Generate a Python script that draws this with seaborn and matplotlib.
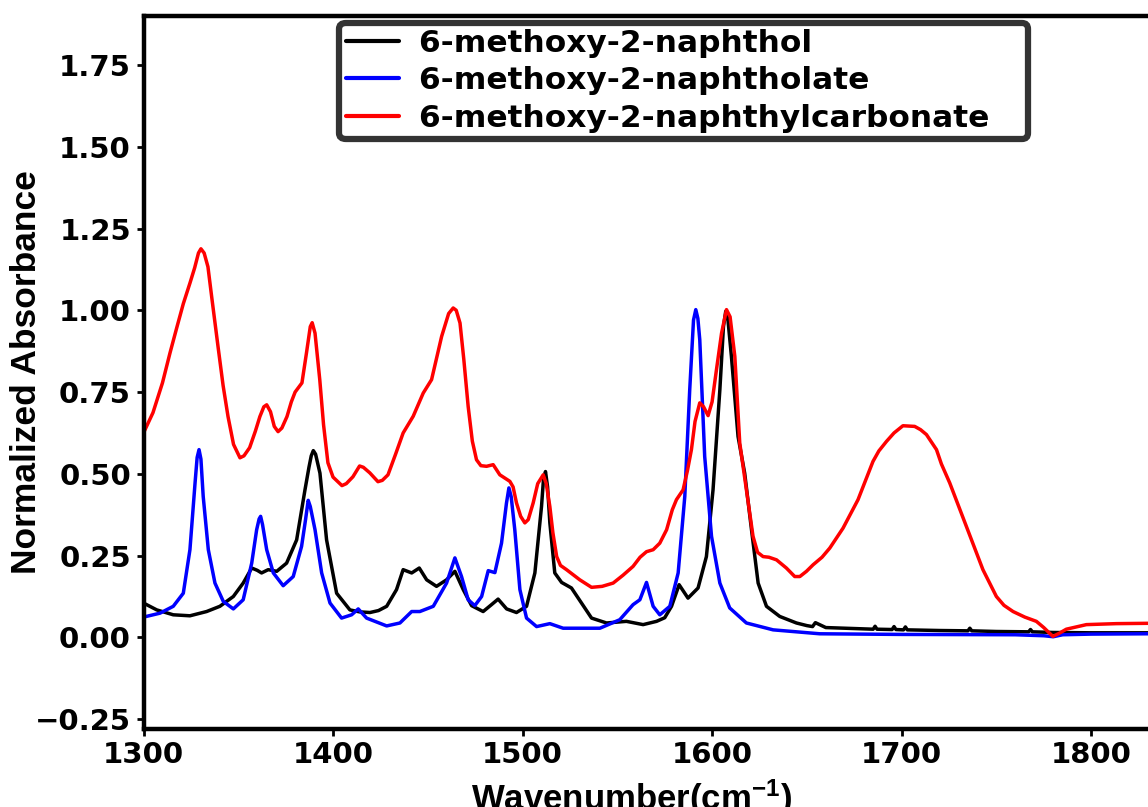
import numpy as np
import pandas as pd
import matplotlib
matplotlib.use("Agg")
import matplotlib.pyplot as plt
import seaborn as sns

# ---------------- data ----------------
naphthol_x = [1300, 1307, 1315.7, 1324.5, 1333.3, 1340.3, 1347.4, 1352.6, 1357.1, 1360, 1362.3,
              1365.8, 1370.3, 1375.5, 1380.8, 1385.2, 1387.3, 1388.5, 1389.6, 1390.8, 1393.1,
              1396.6, 1401.9, 1408.9, 1414, 1419.5, 1424, 1428.3, 1433.5, 1437, 1441.5, 1445.5,
              1449.4, 1454.6, 1459.9, 1464.3, 1468.7, 1473.1, 1479.2, 1483.6, 1487.1, 1491.6,
              1496.8, 1502.1, 1506.5, 1510, 1511, 1512.1, 1513.2, 1514.4, 1517, 1520.6, 1525.8,
              1531.1, 1536.4, 1544.3, 1554.8, 1563.6, 1570.7, 1575, 1578.6, 1582.6, 1587.3,
              1592.6, 1597, 1600.5, 1604.1, 1606, 1607.2, 1608.3, 1610.2, 1613.7, 1617.2, 1620.8,
              1624.3, 1628.7, 1635.7, 1644.5, 1650, 1653, 1654.5, 1660, 1670, 1685, 1686, 1687,
              1695, 1696, 1697, 1701, 1702, 1703, 1720, 1735, 1736, 1737, 1750, 1767, 1768, 1769,
              1780, 1800, 1830]
naphthol_y = [0.105, 0.084, 0.069, 0.066, 0.079, 0.095, 0.125, 0.166, 0.212, 0.205, 0.197,
              0.207, 0.202, 0.227, 0.298, 0.451, 0.52, 0.555, 0.571, 0.56, 0.502,
              0.298, 0.135, 0.084, 0.078, 0.076, 0.082, 0.095, 0.146, 0.207, 0.197, 0.212,
              0.176, 0.156, 0.176, 0.202, 0.146, 0.097, 0.079, 0.1, 0.117, 0.087,
              0.076, 0.095, 0.197, 0.40, 0.48, 0.507, 0.46, 0.35, 0.197, 0.168, 0.151,
              0.105, 0.059, 0.044, 0.049, 0.039, 0.049, 0.06, 0.095, 0.161, 0.12,
              0.151, 0.247, 0.451, 0.757, 0.95, 0.997, 0.975, 0.859, 0.614, 0.502, 0.329,
              0.166, 0.095, 0.064, 0.044, 0.036, 0.033, 0.045, 0.03, 0.028, 0.025, 0.034, 0.025,
              0.024, 0.033, 0.024, 0.023, 0.032, 0.023, 0.021, 0.02, 0.028, 0.02, 0.018, 0.017,
              0.024, 0.017, 0.015, 0.014, 0.014]

naphtholate_x = [1300, 1308.7, 1315.7, 1321, 1324.5, 1327.2, 1328.3, 1329.3, 1330.3, 1331.5,
                 1334.2, 1337.7, 1342.1, 1347.4, 1352.6, 1357.1, 1359.7, 1361, 1361.8, 1362.8,
                 1365, 1368.5, 1373.7, 1379, 1383.4, 1385.5, 1386.9, 1388, 1390.5, 1394, 1398.4,
                 1404.5, 1409.8, 1413.3, 1417.7, 1428.3, 1435.3, 1441.5, 1445.8, 1452.9, 1459.9,
                 1464.3, 1467.8, 1471.3, 1474.8, 1478.4, 1481.9, 1485.4, 1488.9, 1491.5, 1492.8,
                 1494, 1495.9, 1498.6, 1502.1, 1507.4, 1514.4, 1521.4, 1540.8, 1551.3, 1558.3,
                 1561.9, 1565.4, 1568.9, 1572.4, 1577.7, 1582.1, 1585.6, 1588.2, 1590.2, 1591.4,
                 1592.5, 1593.5, 1596.1, 1599.7, 1604.1, 1609.3, 1618.1, 1632.2, 1656.8,
                 1700, 1760, 1775, 1780, 1785, 1800, 1830]
naphtholate_y = [0.062, 0.074, 0.095, 0.135, 0.268, 0.472, 0.55, 0.574, 0.545, 0.431,
                 0.268, 0.166, 0.11, 0.087, 0.115, 0.227, 0.329, 0.362, 0.37, 0.345,
                 0.268, 0.197, 0.158, 0.186, 0.278, 0.36, 0.419, 0.40, 0.329, 0.197, 0.105,
                 0.059, 0.069, 0.087, 0.059, 0.035, 0.044, 0.079, 0.079, 0.095, 0.166,
                 0.243, 0.186, 0.115, 0.097, 0.125, 0.204, 0.198, 0.288, 0.41, 0.457,
                 0.43, 0.329, 0.146, 0.059, 0.033, 0.042, 0.028, 0.028, 0.054, 0.1,
                 0.115, 0.168, 0.095, 0.069, 0.095, 0.197, 0.431, 0.757, 0.97, 1.002,
                 0.975, 0.91, 0.553, 0.309, 0.166, 0.09, 0.044, 0.023, 0.011,
                 0.009, 0.008, 0.005, 0.002, 0.008, 0.01, 0.011]

carbonate_x = [1300, 1305, 1310, 1314, 1317.7, 1321, 1324.5, 1327, 1329, 1330.3, 1332, 1334,
               1336, 1339.3, 1342, 1344.6, 1347.5, 1350.9, 1353, 1356, 1359, 1361.4, 1363.5,
               1365, 1367, 1369, 1371, 1373, 1375.7, 1378, 1380, 1383.6, 1386, 1388, 1389,
               1390.5, 1393, 1395, 1397.3, 1400, 1404.7, 1407, 1410.5, 1414, 1416, 1419.4,
               1423.7, 1426, 1429, 1433, 1437, 1442.3, 1447.6, 1452, 1457.3, 1461, 1463.4,
               1465, 1467, 1469, 1471.3, 1473.5, 1475.7, 1478, 1481, 1484.5, 1488, 1493.3,
               1495, 1496.8, 1499, 1501.2, 1503, 1505.6, 1508, 1510.9, 1512.5, 1514.4, 1516,
               1518, 1520, 1523.2, 1530.2, 1536.4, 1542, 1547.8, 1553, 1558.3, 1562, 1565.4,
               1568.9, 1572.4, 1576, 1579, 1581.2, 1584.7, 1587, 1589.1, 1591, 1593.5, 1595.5,
               1597.9, 1600, 1602.3, 1605, 1607.6, 1609.5, 1612, 1614.6, 1618.1, 1621.6, 1624,
               1626.9, 1630, 1634, 1639.2, 1643.6, 1646.3, 1649.8, 1653.3, 1658, 1662.1, 1669.1,
               1677, 1681, 1684.9, 1688, 1692, 1696, 1700.7, 1706.9, 1710, 1713.1, 1718.4, 1721,
               1725.4, 1734.2, 1742.9, 1750, 1754, 1758.8, 1765, 1771.1, 1775, 1779.8, 1783,
               1786.9, 1797.5, 1813.3, 1830]
carbonate_y = [0.625, 0.687, 0.778, 0.87, 0.95, 1.02, 1.083, 1.13, 1.175, 1.188, 1.175, 1.133,
               1.04, 0.89, 0.77, 0.675, 0.59, 0.549, 0.555, 0.58, 0.63, 0.675, 0.705,
               0.711, 0.69, 0.645, 0.629, 0.64, 0.675, 0.72, 0.75, 0.778, 0.87, 0.95, 0.962,
               0.93, 0.788, 0.65, 0.534, 0.49, 0.464, 0.47, 0.491, 0.524, 0.52, 0.503,
               0.476, 0.48, 0.497, 0.56, 0.625, 0.676, 0.747, 0.788, 0.92, 0.99, 1.007,
               1.0, 0.961, 0.85, 0.706, 0.6, 0.543, 0.525, 0.523, 0.528, 0.497, 0.477,
               0.46, 0.411, 0.37, 0.35, 0.36, 0.411, 0.47, 0.497, 0.47, 0.40, 0.32,
               0.247, 0.22, 0.207, 0.176, 0.153, 0.156, 0.166, 0.19, 0.217, 0.245, 0.262,
               0.268, 0.288, 0.329, 0.39, 0.421, 0.451, 0.51, 0.574, 0.66, 0.717, 0.705,
               0.678, 0.72, 0.818, 0.93, 1.002, 0.98, 0.859, 0.594, 0.451, 0.309, 0.26,
               0.247, 0.245, 0.237, 0.212, 0.186, 0.186, 0.202, 0.222, 0.245, 0.273, 0.334,
               0.421, 0.48, 0.538, 0.57, 0.599, 0.625, 0.647, 0.645, 0.635, 0.62, 0.574, 0.53,
               0.472, 0.339, 0.207, 0.125, 0.098, 0.079, 0.062, 0.049, 0.03, 0.003, 0.012,
               0.025, 0.039, 0.042, 0.043]

series_names = ["6-methoxy-2-naphthol", "6-methoxy-2-naphtholate", "6-methoxy-2-naphthylcarbonate"]
series_colors = ["#000000", "#0000ff", "#ff0000"]
x_ticks = [1300, 1400, 1500, 1600, 1700, 1800]
y_ticks = [-0.25, 0.00, 0.25, 0.50, 0.75, 1.00, 1.25, 1.50, 1.75]

frames = []
for name, xs, ys in zip(series_names,
                        [naphthol_x, naphtholate_x, carbonate_x],
                        [naphthol_y, naphtholate_y, carbonate_y]):
    frames.append(pd.DataFrame({"x": xs, "y": ys, "series": name}))
df = pd.concat(frames, ignore_index=True)

# ---------------- style ----------------
sns.set_style("white")
plt.rcParams["font.family"] = ["DejaVu Sans"]
plt.rcParams["font.weight"] = "bold"
plt.rcParams["text.color"] = "black"
plt.rcParams["axes.labelcolor"] = "black"
plt.rcParams["xtick.color"] = "black"
plt.rcParams["ytick.color"] = "black"
plt.rcParams["mathtext.fontset"] = "custom"
plt.rcParams["mathtext.rm"] = "Liberation Sans:bold"
plt.rcParams["mathtext.bf"] = "Liberation Sans:bold"
plt.rcParams["mathtext.default"] = "regular"

fig = plt.figure(figsize=(11.48, 8.07), dpi=100)
ax = fig.add_axes([0.125, 0.0967, 0.875, 0.8836])

sns.lineplot(data=df, x="x", y="y", hue="series", hue_order=series_names,
             palette=series_colors, sort=False, estimator=None, linewidth=2.5,
             ax=ax, legend=True)

ax.set_xlim(1300, 1830)
ax.set_ylim(-0.28, 1.90)
ax.set_xticks(x_ticks)
ax.set_yticks(y_ticks)
ax.set_yticklabels([f"{v:.2f}".replace("-", "\u2212") for v in y_ticks])

for side in ["left", "top", "bottom"]:
    ax.spines[side].set_linewidth(3.2)
    ax.spines[side].set_color("black")
ax.spines["right"].set_visible(False)

ax.tick_params(axis="both", which="major", direction="out", length=5, width=2,
               labelsize=21, pad=4, left=True, bottom=True, colors="black")
for lab in ax.get_xticklabels() + ax.get_yticklabels():
    lab.set_fontweight("bold")

ax.set_xlabel("Wavenumber(cm$^{-1}$)", fontsize=25, fontweight="bold",
              fontfamily="Liberation Sans")
ax.set_ylabel("Normalized Absorbance", fontsize=25.5, fontweight="bold",
              fontfamily="Liberation Sans")
ax.xaxis.set_label_coords(0.486, -0.068)
ax.yaxis.set_label_coords(-0.100, 0.5)

handles, labels = ax.get_legend_handles_labels()
for h in handles:
    h.set_linewidth(3)
leg = ax.legend(handles, [l + "   " for l in labels], loc="upper left",
                bbox_to_anchor=(0.195, 0.990),
                prop={"family": "DejaVu Sans", "weight": "bold", "size": 22.5},
                frameon=True, fancybox=True, handlelength=1.7, handletextpad=0.65,
                labelspacing=0.26, borderpad=0.2, borderaxespad=0.0)
frame = leg.get_frame()
frame.set_edgecolor("#333333")
frame.set_linewidth(4.5)
frame.set_facecolor("white")
frame.set_alpha(1)

fig.savefig("out.png", dpi=100)
